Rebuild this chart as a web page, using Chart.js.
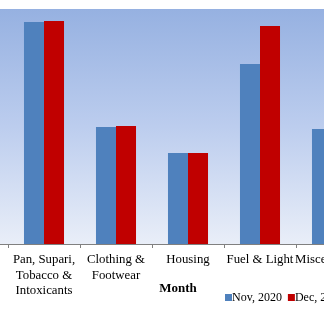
<!DOCTYPE html>
<html>
<head>
<meta charset="utf-8">
<script src="https://cdn.jsdelivr.net/npm/chart.js@4"></script>
<style>
    html, body { margin: 0; padding: 0; background: #ffffff; overflow: hidden; }
    #wrap { position: relative; width: 324px; height: 323px; overflow: hidden; }
    #chartBox { position: absolute; left: -64px; top: 0; width: 432px; height: 323px; }
</style>
</head>
<body>
<div id="wrap">
    <div id="chartBox"><canvas id="expenseChart"></canvas></div>
</div>
<script>
// first label is the (cropped) category left of the visible part
const categories = [
    '',
    ['Pan, Supari,', 'Tobacco &', 'Intoxicants'],
    ['Clothing &', 'Footwear'],
    'Housing',
    'Fuel & Light',
    'Miscellaneous'
];
const nov2020 = [null, 222, 117, 91, 180, 115];
const dec2020 = [null, 223, 118, 91, 218, null];
const seriesNames = ['Nov, 2020', 'Dec, 2020'];
const axisTitle = 'Month';

const plotBackground = {
    id: 'plotBackground',
    beforeDraw: function (chart) {
        const a = chart.chartArea;
        const ctx = chart.ctx;
        const g = ctx.createLinearGradient(0, a.top, 0, a.bottom);
        g.addColorStop(0, '#96b1e1');
        g.addColorStop(0.5, '#bccdee');
        g.addColorStop(1, '#e9eef8');
        ctx.save();
        ctx.fillStyle = g;
        ctx.fillRect(a.left, a.top, a.right - a.left, a.bottom - a.top);
        ctx.restore();
    }
};

// axis title and legend sit side by side under the labels
const bottomTexts = {
    id: 'bottomTexts',
    afterDraw: function (chart) {
        const ctx = chart.ctx;
        ctx.save();
        ctx.fillStyle = '#000000';
        ctx.textBaseline = 'middle';
        ctx.font = 'bold 13px "Liberation Serif"';
        ctx.textAlign = 'center';
        ctx.fillText(axisTitle, 242, 289);

        ctx.font = '12px "Liberation Serif"';
        ctx.textAlign = 'left';
        let x = 289;
        chart.data.datasets.forEach(function (ds) {
            ctx.fillStyle = ds.backgroundColor;
            ctx.fillRect(x, 294, 7, 7);
            ctx.fillStyle = '#000000';
            ctx.fillText(ds.label, x + 7, 298);
            x += 7 + ctx.measureText(ds.label).width + 6;
        });
        ctx.restore();
    }
};

const ctx = document.getElementById('expenseChart').getContext('2d');
new Chart(ctx, {
    type: 'bar',
    data: {
        labels: categories,
        datasets: [
            { label: seriesNames[0], data: nov2020, backgroundColor: '#4f81bd', borderWidth: 0 },
            { label: seriesNames[1], data: dec2020, backgroundColor: '#c00000', borderWidth: 0 }
        ]
    },
    options: {
        responsive: true,
        maintainAspectRatio: false,
        animation: false,
        layout: { padding: { left: 0, right: 0, top: 9, bottom: 0 } },
        datasets: { bar: { barPercentage: 1, categoryPercentage: 0.556 } },
        scales: {
            x: {
                afterFit: function (scale) {
                    scale.height = 79;
                    scale.paddingLeft = 0;
                    scale.paddingRight = 0;
                },
                border: { display: true, color: '#808080', width: 1 },
                grid: { display: true, drawOnChartArea: false, offset: true, tickLength: 4, color: '#808080' },
                ticks: {
                    autoSkip: false,
                    maxRotation: 0,
                    padding: 4,
                    color: '#000000',
                    font: { family: 'Liberation Serif', size: 12.8, lineHeight: 1.22 }
                }
            },
            y: { display: false, min: 0, max: 235 }
        },
        plugins: {
            legend: { display: false },
            tooltip: { enabled: false }
        }
    },
    plugins: [plotBackground, bottomTexts]
});
</script>
</body>
</html>
